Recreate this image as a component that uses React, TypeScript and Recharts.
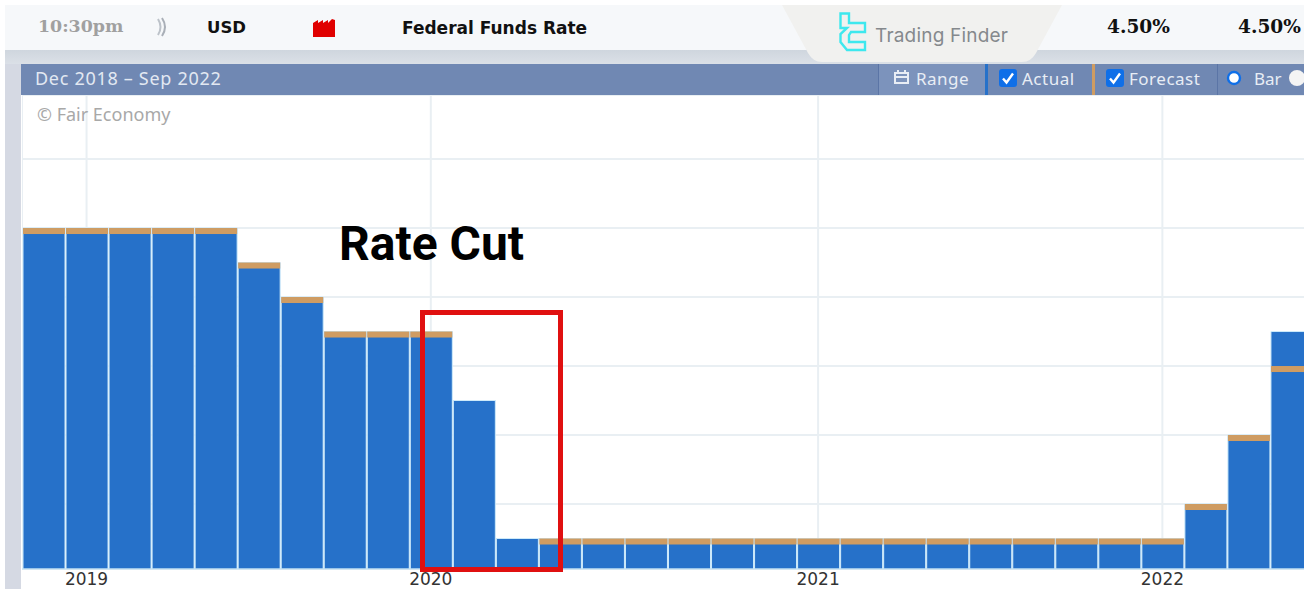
import React from 'react';
import { BarChart, Bar, XAxis, YAxis, CartesianGrid } from 'recharts';

// FOMC meetings shown in the visible part of the chart
const meetings = [
    'Dec 2018',
    'Jan 2019', 'Mar 2019', 'May 2019', 'Jun 2019', 'Jul 2019', 'Sep 2019', 'Oct 2019', 'Dec 2019',
    'Jan 2020', 'Mar 3 2020', 'Mar 15 2020', 'Apr 2020', 'Jun 2020', 'Jul 2020', 'Sep 2020', 'Nov 2020', 'Dec 2020',
    'Jan 2021', 'Mar 2021', 'Apr 2021', 'Jun 2021', 'Jul 2021', 'Sep 2021', 'Nov 2021', 'Dec 2021',
    'Jan 2022', 'Mar 2022', 'May 2022', 'Jun 2022',
];
const actual = [
    2.5,
    2.5, 2.5, 2.5, 2.5, 2.25, 2.0, 1.75, 1.75,
    1.75, 1.25, 0.25, 0.25, 0.25, 0.25, 0.25, 0.25, 0.25,
    0.25, 0.25, 0.25, 0.25, 0.25, 0.25, 0.25, 0.25,
    0.25, 0.5, 1.0, 1.75,
];
const forecast = [
    2.5,
    2.5, 2.5, 2.5, 2.5, 2.25, 2.0, 1.75, 1.75,
    1.75, null, null, 0.25, 0.25, 0.25, 0.25, 0.25, 0.25,
    0.25, 0.25, 0.25, 0.25, 0.25, 0.25, 0.25, 0.25,
    0.25, 0.5, 1.0, 1.5,
];
const yearTicks = ['Jan 2019', 'Jan 2020', 'Jan 2021', 'Jan 2022'];
const rateTicks = [0.5, 1, 1.5, 2, 2.5, 3];

const chartData = meetings.map((m, i) => ({ meeting: m, actual: actual[i], forecast: forecast[i] }));

const BLUE = '#2671c9';
const TAN = '#cf9c62';

const UI_FONT = '"DejaVu Sans", sans-serif';
const HEAD_FONT = '"Noto Sans", sans-serif';
const SERIF_FONT = '"DejaVu Serif", serif';

function Label({ x, y, size, color, weight, font, spacing, children }: any) {
    return (
        <span
            style={{
                position: 'absolute',
                left: x,
                top: y,
                transform: 'translateY(-50%)',
                fontSize: size,
                color,
                fontWeight: weight || 400,
                fontFamily: font || UI_FONT,
                letterSpacing: spacing || 0,
                whiteSpace: 'nowrap',
                lineHeight: 1,
            }}
        >
            {children}
        </span>
    );
}

function Box({ x, y, w, h, style }: any) {
    return <div style={{ position: 'absolute', left: x, top: y, width: w, height: h, ...style }} />;
}

// forecast is only a thin strip hanging from the top of its value
function ForecastStrip(props: any) {
    const { x, y, width, value } = props;
    if (value == null || !Number.isFinite(y)) return null;
    return <rect x={x} y={y} width={width} height={6} fill={TAN} />;
}

function Check({ x }: { x: number }) {
    return (
        <svg style={{ position: 'absolute', left: x, top: 69 }} width={18} height={18}>
            <rect width={18} height={18} rx={3} fill="#0f6fe8" />
            <path d="M4 9.5 L7.5 13.5 L14 4.5" fill="none" stroke="#fff" strokeWidth={2.4} />
        </svg>
    );
}

export default function App() {
    return (
        <div
            style={{
                position: 'absolute',
                left: 0,
                top: 0,
                width: 1304,
                height: 589,
                overflow: 'hidden',
                background: '#fff',
            }}
        >
            {/* calendar row */}
            <Box x={5} y={5} w={1299} h={45} style={{ background: '#f6f8fa' }} />
            <Box
                x={5}
                y={50}
                w={1299}
                h={14}
                style={{ background: 'linear-gradient(#cfd6de, #dbe0e7)' }}
            />
            <Box x={5} y={64} w={16} h={525} style={{ background: '#d5d9e3' }} />

            <Label x={38} y={27} size={17.4} color="#a0a0a0" weight={700} font={SERIF_FONT}>
                10:30pm
            </Label>
            <svg style={{ position: 'absolute', left: 155, top: 16 }} width={14} height={22}>
                <path d="M3 3 Q8 11 3 19" fill="none" stroke="#bcc2c9" strokeWidth={2} />
                <path d="M7 2 Q13 11 7 20" fill="none" stroke="#a9afb7" strokeWidth={2} />
            </svg>
            <Label x={207} y={27.5} size={16.5} color="#111" weight={700}>
                USD
            </Label>
            <svg style={{ position: 'absolute', left: 313, top: 19 }} width={23} height={19}>
                <path d="M0 18 V4 L5 1 V4 L10 1 V4 L15 1 V4 L19 0 L22 1 V18 Z" fill="#e00000" />
            </svg>
            <Label x={402} y={27.5} size={17} color="#111" weight={700}>
                Federal Funds Rate
            </Label>
            <Label x={1107} y={27} size={18.6} color="#111" weight={700} font={SERIF_FONT}>
                4.50%
            </Label>
            <Label x={1238} y={27} size={18.6} color="#111" weight={700} font={SERIF_FONT}>
                4.50%
            </Label>

            {/* chart header */}
            <Box x={21} y={64} w={1283} h={31} style={{ background: '#7088b3' }} />
            <Box
                x={878}
                y={64}
                w={107}
                h={31}
                style={{ background: '#7c93bc', borderLeft: '1px solid #5b75a6', boxSizing: 'border-box' }}
            />
            <Box x={985} y={64} w={3} h={31} style={{ background: BLUE }} />
            <Box x={1092} y={64} w={3} h={31} style={{ background: TAN }} />
            <Box x={1217} y={64} w={1} h={31} style={{ background: '#5b75a6' }} />
            <Label x={35} y={78} size={18} color="#e2e8f2" font={HEAD_FONT} spacing={0.7}>
                Dec 2018 – Sep 2022
            </Label>
            <svg style={{ position: 'absolute', left: 893, top: 69 }} width={17} height={16}>
                <path d="M2 4 H15 V14 H2 Z M2 8 H15" fill="none" stroke="#e8edf5" strokeWidth={2} />
                <path d="M5 1 V5 M12 1 V5" stroke="#e8edf5" strokeWidth={2} />
            </svg>
            <Label x={916} y={78} size={17} color="#e8edf5" font={HEAD_FONT} spacing={0.5}>
                Range
            </Label>
            <Check x={999} />
            <Label x={1022} y={78} size={17} color="#e8edf5" font={HEAD_FONT} spacing={0.5}>
                Actual
            </Label>
            <Check x={1106} />
            <Label x={1129} y={78} size={17} color="#e8edf5" font={HEAD_FONT} spacing={0.5}>
                Forecast
            </Label>
            <svg style={{ position: 'absolute', left: 1225, top: 69 }} width={79} height={18}>
                <circle cx={9} cy={9} r={6} fill="#fff" stroke="#0f6fe8" strokeWidth={2.4} />
                <circle cx={72} cy={9} r={8} fill="#f4f4f4" />
            </svg>
            <Label x={1254} y={78} size={17} color="#e8edf5" font={HEAD_FONT}>
                Bar
            </Label>

            {/* chart */}
            <div style={{ position: 'absolute', left: 21.5, top: 95 }}>
                <BarChart
                    width={1291}
                    height={494}
                    data={chartData}
                    margin={{ top: 0, right: 0, bottom: 0, left: 0 }}
                    barSize={42}
                    barGap={-42}
                >
                    <CartesianGrid stroke="#e9eff3" strokeWidth={2} />
                    <XAxis
                        dataKey="meeting"
                        ticks={yearTicks}
                        interval={0}
                        tickFormatter={(m: string) => m.slice(-4)}
                        height={20}
                        tickLine={false}
                        axisLine={{ stroke: '#bcdcf0' }}
                        tickMargin={-2}
                        tick={{ fontSize: 17, fill: '#333', fontFamily: UI_FONT }}
                    />
                    <YAxis hide type="number" domain={[0.029, 3.464]} ticks={rateTicks} allowDataOverflow />
                    <Bar dataKey="actual" fill={BLUE} stroke="#cdeafa" strokeWidth={1} isAnimationActive={false} />
                    <Bar dataKey="forecast" fill={TAN} isAnimationActive={false} shape={<ForecastStrip />} />
                </BarChart>
            </div>

            <Label x={37} y={114} size={18} color="#a8a8a8" font={HEAD_FONT}>
                © Fair Economy
            </Label>

            {/* annotation */}
            <Label x={339} y={244} size={48} color="#000" weight={700} font="Roboto, sans-serif">
                Rate Cut
            </Label>
            <Box
                x={420}
                y={310}
                w={143}
                h={262}
                style={{ border: '5px solid #e01010', boxSizing: 'border-box' }}
            />

            {/* watermark */}
            <svg style={{ position: 'absolute', left: 782, top: 5 }} width={282} height={58}>
                <path d="M0 0 H280 L254 48 Q249 57 240 57 H40 Q31 57 26 48 Z" fill="#f1f1ef" />
            </svg>
            <svg style={{ position: 'absolute', left: 839, top: 12 }} width={29} height={40}>
                <path
                    d="M1.5 1.5 H10 V11 H26 V20 H12 L10 23 V30 H26 V38 H8 L1.5 30 V22 L8 16 H1.5 Z"
                    fill="none"
                    stroke="#3ee8ee"
                    strokeWidth={2.4}
                />
            </svg>
            <Label x={875} y={35} size={19} color="#85898d" font="Inter, sans-serif" spacing={0.2}>
                Trading Finder
            </Label>
        </div>
    );
}
